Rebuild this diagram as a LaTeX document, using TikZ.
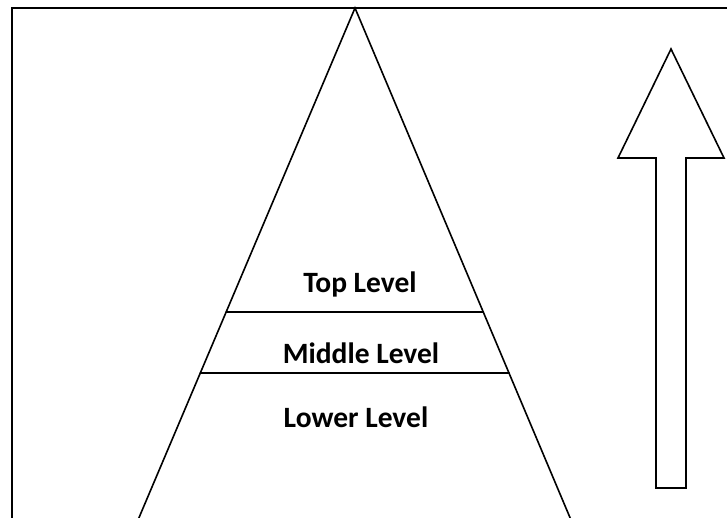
\documentclass[tikz,border=0pt]{standalone}
\usepackage{fontspec}
\setmainfont{Carlito}
\usetikzlibrary{positioning,calc}

\begin{document}
\begin{tikzpicture}[x=1pt,y=-1pt]

	\tikzstyle{nivel} = [font=\fontsize{29.5}{35}\selectfont\bfseries,inner sep=0pt]
	\tikzstyle{linea} = [line width=1.6pt,line cap=round,line join=miter]
	\tikzstyle{borde} = [line width=2.2pt]

	\useasboundingbox (0,0) rectangle (727,518);

	% marco
	\draw[borde] (12,520) -- (12,8) -- (729,8);

	% piramide
	\coordinate (cima) at (355,8);
	\coordinate (bi) at (138,520);
	\coordinate (bd) at (571,520);
	\draw[linea] (bi) -- (cima) -- (bd);

	\coordinate (t1) at ($(cima)!0.594!(bi)$);
	\coordinate (t2) at ($(cima)!0.594!(bd)$);
	\coordinate (m1) at ($(cima)!0.713!(bi)$);
	\coordinate (m2) at ($(cima)!0.713!(bd)$);
	\draw[linea] (t1) -- (t2);
	\draw[linea] (m1) -- (m2);

	\node[nivel] (top) at (360,284) {Top Level};
	\node[nivel] (mid) at (361,353) {Middle Level};
	\node[nivel] (low) at (356,417) {Lower Level};

	% flecha
	\draw[linea] (671,49) -- (724,158) -- (686,158) -- (686,488)
		-- (656,488) -- (656,158) -- (618,158) -- cycle;

\end{tikzpicture}
\end{document}
